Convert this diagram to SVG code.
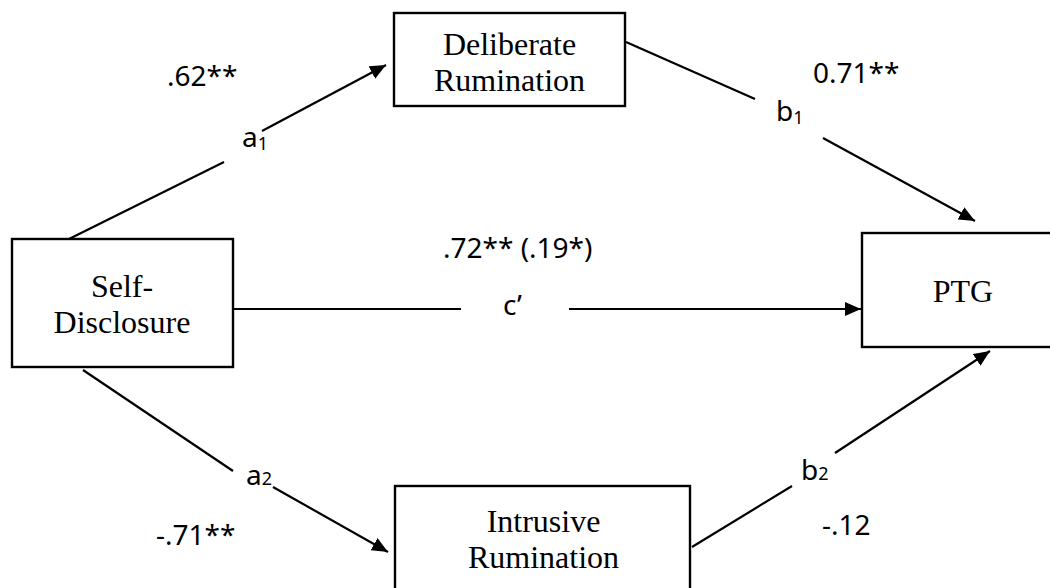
<svg xmlns="http://www.w3.org/2000/svg" width="1050" height="588" viewBox="0 0 1050 588">
<style>
.box{fill:#fff;stroke:#000;stroke-width:2.4}
.node{font-family:"Liberation Serif","Times New Roman",serif;font-size:32px;fill:#000;text-anchor:middle}
.lbl{font-family:"Noto Sans","Open Sans","Liberation Sans",sans-serif;font-size:28px;fill:#000}
.sub{font-size:18px}
.edge{stroke:#000;stroke-width:2.2;fill:none}
</style>
<defs>
<marker id="arr" markerUnits="userSpaceOnUse" markerWidth="16" markerHeight="14" refX="16" refY="7" orient="auto">
<path d="M0,0 L16,7 L0,14 z" fill="#000"/>
</marker>
</defs>
<rect width="1050" height="588" fill="#fff"/>
<g id="connectors">
<line class="edge" x1="69" y1="239" x2="224" y2="162"/>
<line class="edge" x1="262" y1="131" x2="386" y2="65" marker-end="url(#arr)"/>
<line class="edge" x1="626" y1="42" x2="755" y2="99"/>
<line class="edge" x1="823" y1="138" x2="975" y2="221" marker-end="url(#arr)"/>
<line class="edge" x1="233" y1="309" x2="461" y2="309"/>
<line class="edge" x1="569" y1="309" x2="861" y2="309" marker-end="url(#arr)"/>
<line class="edge" x1="83" y1="370" x2="233" y2="471"/>
<line class="edge" x1="273" y1="487" x2="388" y2="552" marker-end="url(#arr)"/>
<line class="edge" x1="692" y1="547" x2="792" y2="486"/>
<line class="edge" x1="835" y1="453" x2="990" y2="351" marker-end="url(#arr)"/>
</g>
<g id="labels">
<text class="lbl" x="167" y="86">.62**</text>
<text class="lbl" x="242" y="147">a<tspan class="sub" dy="3">1</tspan></text>
<text class="lbl" x="813" y="83">0.71**</text>
<text class="lbl" x="776" y="121">b<tspan class="sub" dy="3">1</tspan></text>
<text class="lbl" x="443" y="258">.72** (.19*)</text>
<text class="lbl" x="503" y="315">c’</text>
<text class="lbl" x="246" y="485">a<tspan class="sub">2</tspan></text>
<text class="lbl" x="156" y="545">-.71**</text>
<text class="lbl" x="801" y="480">b<tspan class="sub">2</tspan></text>
<text class="lbl" x="822" y="535">-.12</text>
</g>
<g id="node-deliberate">
<rect class="box" x="394" y="13" width="231" height="93"/>
<text class="node" x="509.5" y="55">Deliberate</text>
<text class="node" x="509.5" y="91">Rumination</text>
</g>
<g id="node-selfdisclosure">
<rect class="box" x="12" y="239" width="221" height="128"/>
<text class="node" x="122" y="297">Self-</text>
<text class="node" x="122" y="333">Disclosure</text>
</g>
<g id="node-ptg">
<rect class="box" x="862" y="233" width="200" height="114"/>
<text class="node" x="963" y="302">PTG</text>
</g>
<g id="node-intrusive">
<rect class="box" x="395" y="486" width="295" height="120"/>
<text class="node" x="543.5" y="532">Intrusive</text>
<text class="node" x="543.5" y="568">Rumination</text>
</g>
</svg>
